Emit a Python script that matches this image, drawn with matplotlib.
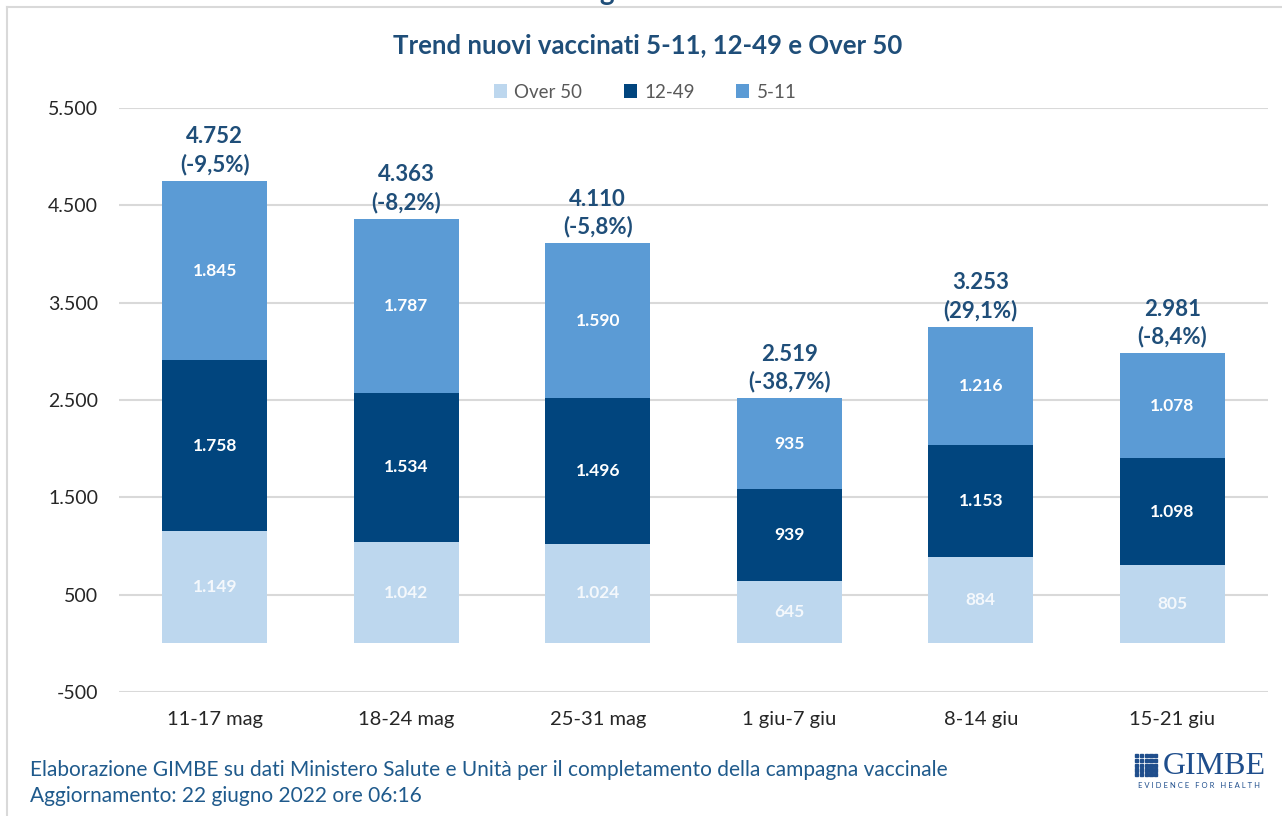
import matplotlib.pyplot as plt
from matplotlib.patches import Rectangle
from matplotlib.lines import Line2D

plt.rcParams['font.family'] = ['Lato', 'DejaVu Sans']

weeks = ['11-17 mag', '18-24 mag', '25-31 mag', '1 giu-7 giu', '8-14 giu', '15-21 giu']
over50 = [1149, 1042, 1024, 645, 884, 805]
age_12_49 = [1758, 1534, 1496, 939, 1153, 1098]
age_5_11 = [1845, 1787, 1590, 935, 1216, 1078]
totals = [4752, 4363, 4110, 2519, 3253, 2981]
pct_change = ['-9,5%', '-8,2%', '-5,8%', '-38,7%', '29,1%', '-8,4%']

c_light = '#BDD7EE'
c_dark = '#01457E'
c_mid = '#5B9BD5'
c_title = '#1F4E79'


def fmt(v):
    return f'{v:,}'.replace(',', '.')


fig = plt.figure(figsize=(12.82, 8.16), dpi=100)
ax = fig.add_axes([119 / 1282, 1 - 692 / 816, (1268 - 119) / 1282, (692 - 108) / 816])

x = list(range(len(weeks)))
w = 0.55
b1 = ax.bar(x, over50, w, color=c_light, label='Over 50', zorder=3)
bottom2 = over50
b2 = ax.bar(x, age_12_49, w, bottom=bottom2, color=c_dark, label='12-49', zorder=3)
bottom3 = [a + b for a, b in zip(over50, age_12_49)]
b3 = ax.bar(x, age_5_11, w, bottom=bottom3, color=c_mid, label='5-11', zorder=3)

# segment labels
for i in x:
    ax.text(i, over50[i] / 2, fmt(over50[i]), ha='center', va='center',
            color='#F4F8FC', fontsize=12.5, fontweight='bold', zorder=4)
    ax.text(i, bottom2[i] + age_12_49[i] / 2, fmt(age_12_49[i]), ha='center', va='center',
            color='white', fontsize=12.5, fontweight='bold', zorder=4)
    ax.text(i, bottom3[i] + age_5_11[i] / 2, fmt(age_5_11[i]), ha='center', va='center',
            color='white', fontsize=12.5, fontweight='bold', zorder=4)
    ax.annotate(f'{fmt(totals[i])}\n({pct_change[i]})', (i, totals[i]),
                xytext=(0, 4), textcoords='offset points', ha='center', va='bottom',
                color=c_title, fontsize=16, fontweight='bold', linespacing=1.35, zorder=4)

ax.set_xlim(-0.5, len(weeks) - 0.5)
ax.set_ylim(-500, 5500)
ax.set_yticks(range(-500, 5501, 1000))
ax.set_yticklabels([fmt(v) for v in range(-500, 5501, 1000)])
ax.set_xticks(x)
ax.set_xticklabels(weeks)
ax.tick_params(axis='x', length=0, labelsize=14.5, colors='#262626', pad=14)
ax.tick_params(axis='y', length=0, labelsize=14, colors='#262626', pad=15)
ax.grid(axis='y', color='#D9D9D9', linewidth=1.5, zorder=0)
for s in ax.spines.values():
    s.set_visible(False)

fig.text(648 / 1282, 1 - 45 / 816, 'Trend nuovi vaccinati 5-11, 12-49 e Over 50',
         ha='center', va='center', fontsize=18.5, fontweight='bold', color=c_title)
fig.text(607 / 1282, 1.0, 'g', ha='center', va='baseline', fontsize=20,
         fontweight='bold', color=c_title)

fig.legend(handles=[b1, b2, b3], labels=['Over 50', '12-49', '5-11'],
           loc='center', bbox_to_anchor=(645 / 1282, 1 - 92 / 816), ncol=3,
           frameon=False, fontsize=13.5, handlelength=0.7, handleheight=0.7,
           columnspacing=2.2, handletextpad=0.4, labelcolor='#595959')

fig.text(30 / 1282, 1 - 770 / 816,
         'Elaborazione GIMBE su dati Ministero Salute e Unità per il completamento della campagna vaccinale',
         ha='left', va='center', fontsize=15, color='#1F5A8C')
fig.text(30 / 1282, 1 - 796 / 816, 'Aggiornamento: 22 giugno 2022 ore 06:16',
         ha='left', va='center', fontsize=15, color='#1F5A8C')

# frame lines
fig.add_artist(Line2D([7 / 1282, 7 / 1282], [0, 1 - 7 / 816], color='#D9D9D9', lw=1.5))
fig.add_artist(Line2D([7 / 1282, 1], [1 - 7 / 816, 1 - 7 / 816], color='#D9D9D9', lw=1.5))

# GIMBE logo
logo_blue = '#1F4E8C'
for r in range(5):
    for c in range(5):
        px = 1135 + c * 4.8
        py = 754 + r * 4.8
        fig.add_artist(Rectangle((px / 1282, 1 - (py + 3.2) / 816), 3.2 / 1282, 3.2 / 816,
                                 color=logo_blue, transform=fig.transFigure))
fig.text(1163 / 1282, 1 - 766 / 816, 'GIMBE', ha='left', va='center', fontsize=23,
         family='Liberation Serif', color=logo_blue)
fig.text(1199 / 1282, 1 - 786 / 816, 'E V I D E N C E   F O R   H E A L T H', ha='center',
         va='center', fontsize=5.5, color=logo_blue)

fig.savefig('out.png', dpi=100)
